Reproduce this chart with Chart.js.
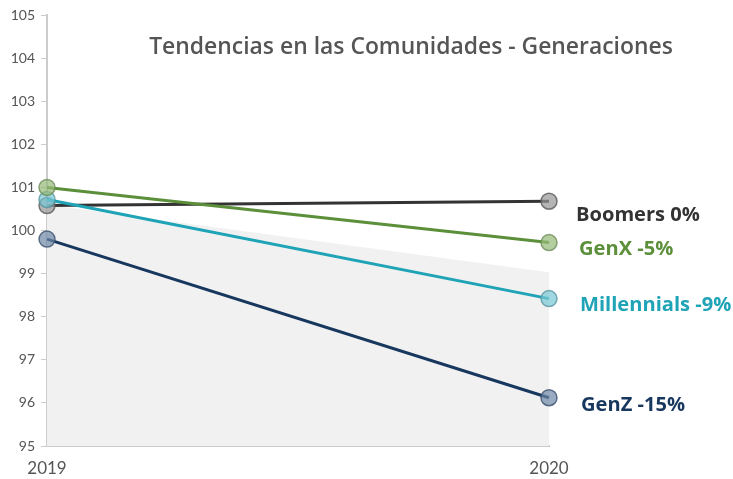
<!DOCTYPE html>
<html>
<head>
<meta charset="utf-8">
<script src="https://cdn.jsdelivr.net/npm/chart.js@4.4.0/dist/chart.umd.min.js"></script>
<style>
    html, body { margin: 0; padding: 0; background: #fff; }
    #wrap { width: 733px; height: 479px; }
</style>
</head>
<body>
<div id="wrap"><canvas id="trendChart" width="733" height="479"></canvas></div>
<script>
// Data
const years = ['2019', '2020'];
const boomers = [100.58, 100.68];
const genX = [101.0, 99.72];
const millennials = [100.72, 98.42];
const genZ = [99.8, 96.12];
const band = [100.6, 99.03]; // light gray shaded area

const seriesLabels = ['Boomers 0%', 'GenX -5%', 'Millennials -9%', 'GenZ -15%'];
const chartTitle = 'Tendencias en las Comunidades - Generaciones';

const FONT = 'Lato, "Open Sans", sans-serif';
const WIDE_FONT = '"Open Sans", Lato, sans-serif';

// pick a font size so that text spans about the given width
function fitFont(ctx, text, weight, family, targetWidth) {
    ctx.font = weight + ' 20px ' + family;
    const w = ctx.measureText(text).width;
    const size = 20 * targetWidth / w;
    return weight + ' ' + size.toFixed(1) + 'px ' + family;
}

// Draws the title inside the plot and the end-of-line labels
const annotations = {
    id: 'annotations',
    afterDatasetsDraw(chart) {
        const ctx = chart.ctx;
        ctx.save();
        ctx.fillStyle = '#555';
        ctx.font = fitFont(ctx, chartTitle, '600', WIDE_FONT, 524);
        ctx.textAlign = 'center';
        ctx.textBaseline = 'middle';
        ctx.fillText(chartTitle, 411, 47);

        ctx.font = fitFont(ctx, 'Millennials -9%', 'bold', WIDE_FONT, 151);
        ctx.textAlign = 'left';
        chart.data.datasets.forEach((ds, i) => {
            if (!ds.endLabel) return;
            const meta = chart.getDatasetMeta(i);
            const pt = meta.data[meta.data.length - 1];
            ctx.fillStyle = ds.labelColor;
            ctx.fillText(ds.endLabel, pt.x + ds.labelDx, pt.y + ds.labelDy);
        });
        ctx.restore();
    }
};

function lineSet(data, label, line, fill, border, dx, dy) {
    return {
        data: data,
        endLabel: label,
        labelColor: line,
        labelDx: dx,
        labelDy: dy,
        borderColor: line,
        borderWidth: 3,
        pointRadius: 8,
        pointHoverRadius: 8,
        pointBackgroundColor: fill,
        pointBorderColor: border,
        pointBorderWidth: 1.5,
        tension: 0,
        fill: false
    };
}

new Chart(document.getElementById('trendChart'), {
    type: 'line',
    data: {
        labels: years,
        datasets: [
            lineSet(genX, seriesLabels[1], '#5b8f3a', 'rgba(150,185,120,0.7)', 'rgba(110,140,90,0.8)', 30, 7),
            lineSet(millennials, seriesLabels[2], '#1fa3b6', 'rgba(120,200,212,0.7)', 'rgba(90,150,160,0.8)', 31, 7),
            lineSet(boomers, seriesLabels[0], '#333333', 'rgba(150,150,150,0.7)', 'rgba(90,90,90,0.8)', 27, 14),
            lineSet(genZ, seriesLabels[3], '#17375e', 'rgba(110,135,165,0.7)', 'rgba(60,80,110,0.8)', 32, 8),
            {
                data: band,
                borderWidth: 0,
                pointRadius: 0,
                backgroundColor: '#f1f1f1',
                fill: 'start',
                tension: 0
            }
        ]
    },
    options: {
        responsive: false,
        animation: false,
        layout: { padding: { top: 15, right: 184, bottom: 0, left: 0 } },
        plugins: {
            legend: { display: false },
            tooltip: { enabled: false },
            title: { display: false }
        },
        scales: {
            x: {
                offset: false,
                afterFit(scale) { scale.height = 33; },
                grid: { display: false, drawTicks: false },
                border: { display: true, color: '#cccccc', width: 2 },
                ticks: { color: '#555', font: { family: FONT, size: 17 }, padding: 12 }
            },
            y: {
                min: 95,
                max: 105,
                afterFit(scale) { scale.width = 47; },
                ticks: { stepSize: 1, color: '#555', font: { family: FONT, size: 14 }, padding: 6 },
                grid: { drawOnChartArea: false, drawTicks: true, tickLength: 6, color: '#cccccc' },
                border: { display: true, color: '#cccccc', width: 2 }
            }
        }
    },
    plugins: [annotations]
});
</script>
</body>
</html>
